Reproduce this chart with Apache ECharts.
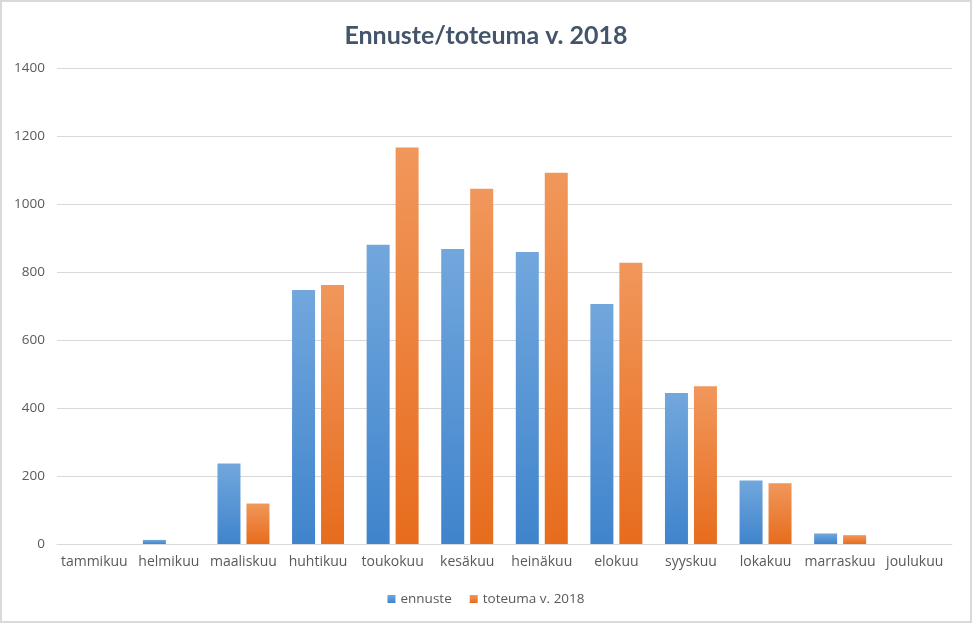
<!DOCTYPE html>
<html>
<head>
<meta charset="utf-8">
<script src="https://cdn.jsdelivr.net/npm/echarts@6/dist/echarts.min.js"></script>
<style>
html,body{margin:0;padding:0;background:#fff;}
#c{width:968px;height:619px;border:2px solid #d9d9d9;}
</style>
</head>
<body>
<div id="c"></div>
<script>
const categories = ['tammikuu','helmikuu','maaliskuu','huhtikuu','toukokuu','kesäkuu','heinäkuu','elokuu','syyskuu','lokakuu','marraskuu','joulukuu'];
const ennuste = [0, 12, 237, 747, 880, 868, 859, 706, 444, 187, 31, 0];
const toteuma = [0, 0, 119, 762, 1166, 1045, 1092, 827, 464, 179, 26, 0];
const seriesNames = ['ennuste', 'toteuma v. 2018'];
const titleText = 'Ennuste/toteuma v. 2018';

const chart = echarts.init(document.getElementById('c'), null, {renderer: 'canvas'});
const titleFont = 'Lato, "Open Sans", sans-serif';
const font = '"Open Sans", Lato, sans-serif';
function grad(top, bottom){
  return new echarts.graphic.LinearGradient(0,0,0,1,[{offset:0,color:top},{offset:1,color:bottom}]);
}
chart.setOption({
  animation: false,
  title: {
    text: titleText, left: 'center', top: 16,
    textStyle: {fontFamily: titleFont, fontWeight: 'bold', fontSize: 25, color: '#44546a'}
  },
  legend: {
    bottom: 10, left: 'center', itemWidth: 8, itemHeight: 8, itemGap: 18,
    icon: 'rect',
    textStyle: {fontFamily: font, fontSize: 13.5, color: '#595959'},
    data: seriesNames
  },
  grid: {left: 55, right: 18, top: 66, bottom: 77, containLabel: false},
  xAxis: {
    type: 'category', data: categories,
    axisLine: {lineStyle: {color: '#d9d9d9'}},
    axisTick: {show: false},
    axisLabel: {fontFamily: font, fontSize: 14, color: '#595959', margin: 11, interval: 0}
  },
  yAxis: {
    type: 'value', min: 0, max: 1400, interval: 200,
    axisLine: {show: false}, axisTick: {show: false},
    splitLine: {lineStyle: {color: '#d9d9d9'}},
    axisLabel: {fontFamily: font, fontSize: 13.5, color: '#595959', margin: 12, formatter: v => String(v)}
  },
  series: [
    {name: seriesNames[0], type: 'bar', data: ennuste, barWidth: 23, barGap: '26%',
     itemStyle: {color: grad('#72a7dd', '#3f84cc')}},
    {name: seriesNames[1], type: 'bar', data: toteuma, barWidth: 23,
     itemStyle: {color: grad('#f1975b', '#e76c1d')}}
  ]
});
</script>
</body>
</html>
